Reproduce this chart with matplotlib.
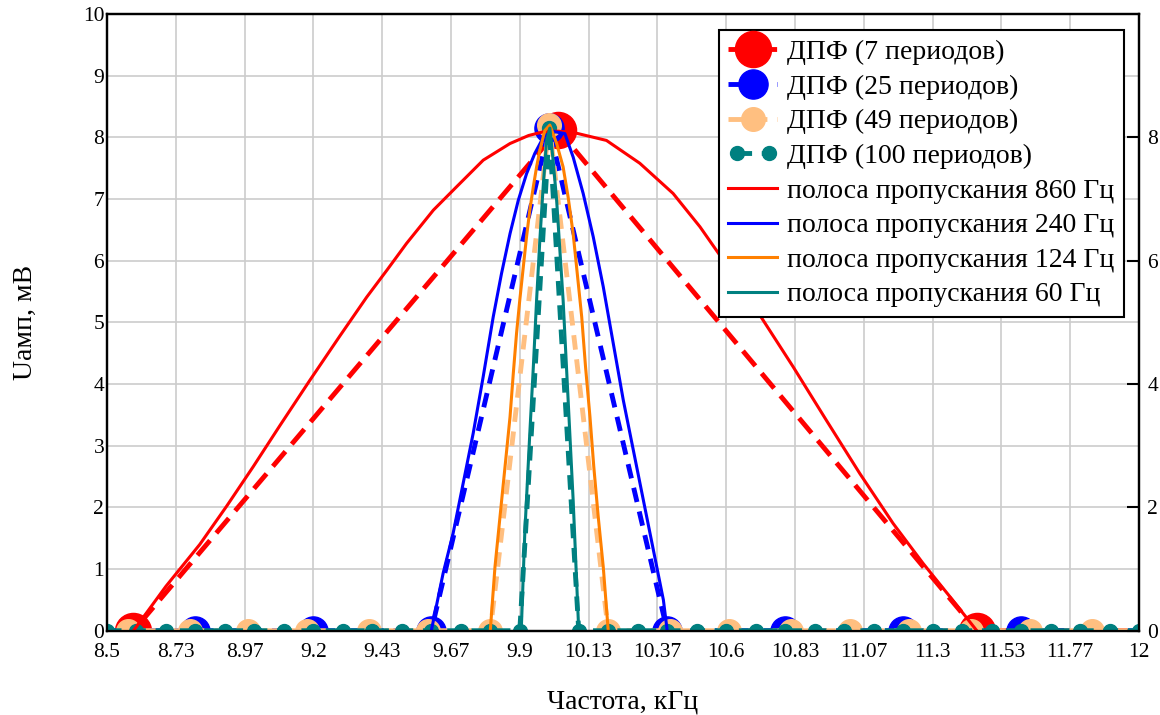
import matplotlib
matplotlib.use('Agg')
import matplotlib.pyplot as plt
from matplotlib.legend_handler import HandlerLine2D

plt.rcParams['font.family'] = ['Liberation Serif', 'DejaVu Serif']

# --- ДАННЫЕ ---
# ДПФ: частоты бинов (кГц) и амплитуды (мВ)
f_dft7 = [7.16, 8.59, 10.03, 11.45, 12.88]
u_dft7 = [0, 0, 8.12, 0, 0]

f_dft25 = [8.4, 8.8, 9.2, 9.6, 10.0, 10.4, 10.8, 11.2, 11.6, 12.04]
u_dft25 = [0, 0, 0, 0, 8.15, 0, 0, 0, 0, 0]

f_dft49 = [8.37, 8.57, 8.78, 8.98, 9.18, 9.39, 9.59, 9.8, 10.0, 10.2,
           10.41, 10.61, 10.82, 11.02, 11.22, 11.43, 11.63, 11.84, 12.04]
u_dft49 = [0, 0, 0, 0, 0, 0, 0, 0, 8.2, 0,
           0, 0, 0, 0, 0, 0, 0, 0, 0]

f_dft100 = [8.5, 8.6, 8.7, 8.8, 8.9, 9.0, 9.1, 9.2, 9.3, 9.4, 9.5, 9.6,
            9.7, 9.8, 9.9, 10.0, 10.1, 10.2, 10.3, 10.4, 10.5, 10.6, 10.7,
            10.8, 10.9, 11.0, 11.1, 11.2, 11.3, 11.4, 11.5, 11.6, 11.7,
            11.8, 11.9, 12.0]
u_dft100 = [0] * 15 + [8.15] + [0] * 20

# полосы пропускания
f_bw860 = [8.59, 8.70, 8.815, 8.906, 8.996, 9.087, 9.188, 9.29, 9.381, 9.45,
           9.516, 9.607, 9.686, 9.776, 9.867, 9.93, 9.98, 10.03, 10.081, 10.194,
           10.307, 10.42, 10.511, 10.59, 10.703, 10.827, 10.94, 11.053, 11.166,
           11.268, 11.359, 11.45]
u_bw860 = [0, 0.72, 1.4, 2.02, 2.66, 3.33, 4.06, 4.78, 5.41, 5.85,
           6.28, 6.82, 7.2, 7.63, 7.9, 8.03, 8.09, 8.1, 8.08, 7.95,
           7.58, 7.09, 6.55, 6.01, 5.2, 4.28, 3.41, 2.55, 1.74,
           1.09, 0.55, 0]

f_bw240 = [9.6, 9.64, 9.674, 9.708, 9.742, 9.776, 9.81, 9.838, 9.867, 9.895,
           9.923, 9.951, 9.98, 10.01, 10.053, 10.081, 10.115, 10.149, 10.183,
           10.217, 10.251, 10.285, 10.319, 10.353, 10.387, 10.4]
u_bw240 = [0, 0.93, 1.58, 2.39, 3.2, 4.12, 5.09, 5.79, 6.44, 6.98,
           7.41, 7.74, 8.0, 8.1, 8.06, 7.68, 7.09, 6.39, 5.58,
           4.66, 3.74, 2.93, 2.12, 1.31, 0.5, 0]

f_bw124 = [9.8, 9.816, 9.833, 9.85, 9.867, 9.878, 9.889, 9.9, 9.912, 9.923,
           9.934, 9.946, 9.957, 9.968, 9.985, 10.002, 10.025, 10.047, 10.064,
           10.081, 10.095, 10.11, 10.123, 10.138, 10.151, 10.166, 10.183, 10.2]
u_bw124 = [0, 1.04, 1.85, 2.66, 3.47, 4.17, 4.82, 5.36, 5.9, 6.39,
           6.82, 7.2, 7.52, 7.79, 8.11, 8.2, 7.9, 7.52, 7.03,
           6.44, 5.79, 5.09, 4.28, 3.47, 2.66, 1.85, 1.04, 0]

f_bw60 = [9.905, 9.917, 9.934, 9.946, 9.957, 9.968, 9.98, 9.991, 10.002,
          10.013, 10.025, 10.036, 10.047, 10.064, 10.081, 10.1]
u_bw60 = [0, 1.58, 3.2, 4.28, 5.36, 6.33, 7.25, 7.95, 8.15,
          7.63, 6.98, 6.17, 5.36, 3.74, 2.12, 0]

x_ticks = [8.5, 8.7333, 8.9667, 9.2, 9.4333, 9.6667, 9.9, 10.1333, 10.3667,
           10.6, 10.8333, 11.0667, 11.3, 11.5333, 11.7667, 12.0]
x_labels = ['8.5', '8.73', '8.97', '9.2', '9.43', '9.67', '9.9', '10.13',
            '10.37', '10.6', '10.83', '11.07', '11.3', '11.53', '11.77', '12']

RED = '#ff0000'
BLUE = '#0000ff'
PEACH = '#ffbf80'
TEAL = '#008080'
ORANGE = '#ff8000'

fig = plt.figure(figsize=(11.6, 7.15), dpi=100)
ax = fig.add_axes([0.0922, 0.1179, 0.8897, 0.8625])

# ДПФ (пунктир + маркеры)
l7, = ax.plot(f_dft7, u_dft7, color=RED, lw=3.5, dashes=(4, 2),
              marker='o', ms=26, zorder=2, label='ДПФ (7 периодов)')
l25, = ax.plot(f_dft25, u_dft25, color=BLUE, lw=3.5, dashes=(3, 2),
               marker='o', ms=21, zorder=3, label='ДПФ (25 периодов)')
l49, = ax.plot(f_dft49, u_dft49, color=PEACH, lw=3.5, dashes=(3, 2),
               marker='o', ms=17, zorder=4, label='ДПФ (49 периодов)')
l100, = ax.plot(f_dft100, u_dft100, color=TEAL, lw=3.5, dashes=(3, 2),
                marker='o', ms=10, zorder=5, label='ДПФ (100 периодов)')

# полосы пропускания (сплошные)
ax.plot(f_bw860, u_bw860, color=RED, lw=2.2, zorder=6, label='полоса пропускания 860 Гц')
ax.plot(f_bw240, u_bw240, color=BLUE, lw=2.2, zorder=6, label='полоса пропускания 240 Гц')
ax.plot(f_bw124, u_bw124, color=ORANGE, lw=2.2, zorder=6, label='полоса пропускания 124 Гц')
ax.plot(f_bw60, u_bw60, color=TEAL, lw=2.2, zorder=6, label='полоса пропускания 60 Гц')

ax.set_xlim(8.5, 12)
ax.set_ylim(0, 10)
ax.set_xticks(x_ticks)
ax.set_xticklabels(x_labels)
ax.set_yticks(range(0, 11))
ax.tick_params(length=0, labelsize=15.5)
ax.tick_params(axis='x', pad=9)
ax.tick_params(axis='y', pad=2)
ax.grid(True, color='#cccccc', lw=1.2)
ax.set_axisbelow(True)
for s in ax.spines.values():
    s.set_linewidth(1.6)

ax.set_xlabel('Частота, кГц', fontsize=20, labelpad=20)
ax.set_ylabel('Uамп, мВ', fontsize=20, labelpad=32)

ax2 = ax.twinx()
ax2.set_ylim(0, 10)
ax2.set_yticks([0, 2, 4, 6, 8])
ax2.tick_params(direction='in', length=9, width=1.5, labelsize=15.5, pad=6)
for s in ax2.spines.values():
    s.set_linewidth(1.6)

leg = ax2.legend(*ax.get_legend_handles_labels(), loc='upper right',
                 bbox_to_anchor=(0.9855, 0.974), fontsize=20,
                 fancybox=False, framealpha=1, edgecolor='black',
                 borderpad=0.35, labelspacing=0.33, handlelength=1.75,
                 handletextpad=0.36, borderaxespad=0, numpoints=1,
                 handler_map={l100: HandlerLine2D(numpoints=2)})
leg.get_frame().set_linewidth(1.5)

fig.savefig('out.png', dpi=100)
